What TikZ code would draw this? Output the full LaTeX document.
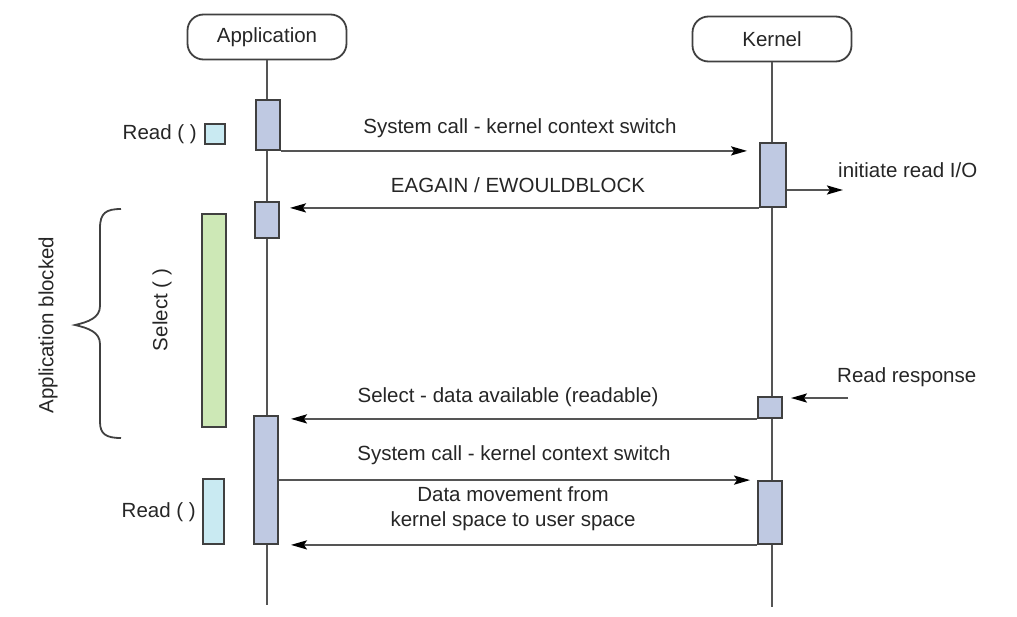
\documentclass[tikz,border=0pt]{standalone}
\usepackage{fontspec}
\setmainfont{Liberation Sans}
\usetikzlibrary{arrows.meta}
\definecolor{actfill}{HTML}{BFC9E2}
\definecolor{readfill}{HTML}{C9EAF2}
\definecolor{selfill}{HTML}{CDE8B6}
\definecolor{edge}{HTML}{404040}
\definecolor{wire}{HTML}{555555}
\tikzset{
  actor/.style={draw=edge, line width=1.8pt, rounded corners=16pt, minimum width=159pt, minimum height=45pt, inner sep=0pt, fill=white},
  life/.style={draw=wire, line width=2.3pt},
  act/.style={draw=edge, line width=1.8pt, fill=actfill, inner sep=0pt, minimum width=24pt},
  readbox/.style={draw=edge, line width=1.8pt, fill=readfill, inner sep=0pt},
  selbox/.style={draw=edge, line width=1.8pt, fill=selfill, inner sep=0pt},
  msg/.style={draw=wire, line width=2.3pt, -{Stealth[length=16pt,width=9pt,inset=3pt,black]}},
  lbl/.style={inner sep=0pt, font=\fontsize{20.5}{25}\selectfont, text=black!85},
}
\begin{document}
\begin{tikzpicture}[x=1pt,y=-1pt]
\useasboundingbox (0,0) rectangle (1017,616);

% participants and lifelines
\node[actor] (app) at (267,37) {};
\node[lbl] (appl) at (app.center) {Application};
\node[actor] (ker) at (772,39) {};
\node[lbl] (kerl) at (ker.center) {Kernel};
\coordinate (appEnd) at (267,605);
\coordinate (kerEnd) at (772,607);
\draw[life] (app.south) -- (appEnd);
\draw[life] (ker.south) -- (kerEnd);

% activation bars
\node[act, minimum height=50pt] (a1) at (268,125) {};
\node[act, minimum height=36pt] (a2) at (267,220) {};
\node[act, minimum height=64pt, minimum width=26pt] (k1) at (773,175) {};
\node[act, minimum height=128pt] (a3) at (266,480) {};
\node[act, minimum height=21pt] (k2) at (770,407.5) {};
\node[act, minimum height=63pt] (k3) at (770,512.5) {};

% application-side calls
\node[readbox, minimum width=20pt, minimum height=20pt] (r1) at (215,134) {};
\node[lbl, anchor=east] (r1l) at (197,134) {Read ( )};
\node[readbox, minimum width=21pt, minimum height=65pt] (r2) at (213.5,511.5) {};
\node[lbl, anchor=east] (r2l) at (196,512) {Read ( )};
\node[selbox, minimum width=24pt, minimum height=213pt] (sel) at (214,320.5) {};
\node[lbl, rotate=90] (sell) at (162,310) {Select ( )};

% blocked interval
\draw[edge, line width=1.8pt]
  (121,209) .. controls (106,209) and (100,213) .. (100,228)
  -- (100,306) .. controls (100,318) and (88,322) .. (75,325)
  .. controls (88,328) and (100,332) .. (100,344)
  -- (100,422) .. controls (100,434) and (106,438) .. (121,438);
\node[lbl, rotate=90] (blk) at (48,325) {Application blocked};

% messages
\draw[msg, shorten >=12pt] (a1.south east) -- (a1.south east -| k1.west);
\node[lbl] (m1) at (520,128) {System call - kernel context switch};

\draw[msg, shorten >=10pt] (k1.south west) -- (k1.south west -| a2.east);
\node[lbl] (m2) at (518,185) {EAGAIN / EWOULDBLOCK};

\coordinate (io) at (843,190);
\draw[msg] (k1.east |- io) -- (io);
\node[lbl, anchor=west] (m3) at (838,170) {initiate read I/O};

\coordinate (rr) at (848,398);
\draw[msg, shorten >=8pt] (rr) -- (rr -| k2.east);
\node[lbl, anchor=west] (m4) at (837,377) {Read response};

\draw[msg, shorten >=12pt] (k2.south west) -- (k2.south west -| a3.east);
\node[lbl] (m5) at (508,397) {Select - data available (readable)};

\draw[msg, shorten >=7pt] (a3.east |- k3.north west) -- (k3.north west);
\node[lbl] (m6) at (514,455) {System call - kernel context switch};

\draw[msg, shorten >=12pt] (k3.south west) -- (a3.south east);
\node[lbl, align=center] (m7) at (513,509) {Data movement from\\kernel space to user space};
\end{tikzpicture}
\end{document}
